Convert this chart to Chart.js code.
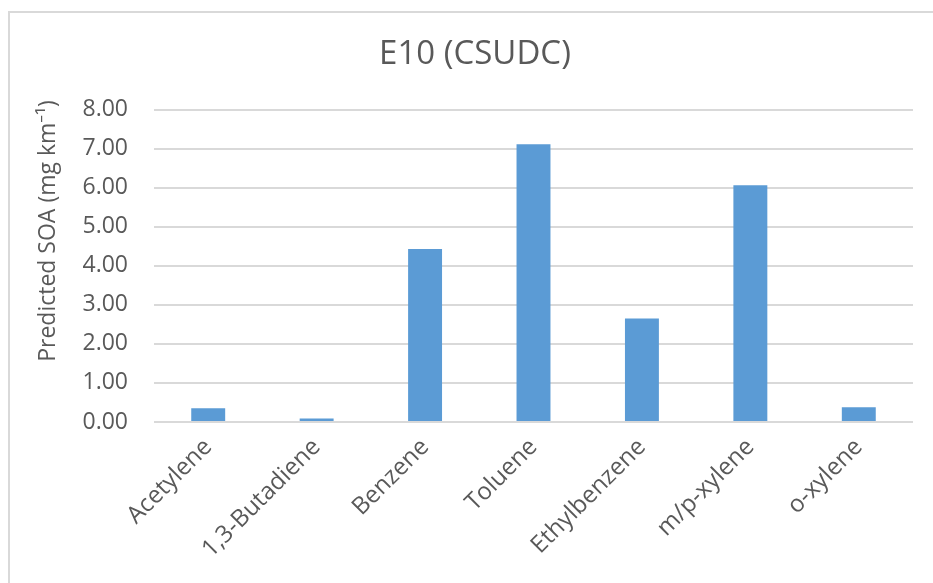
<!DOCTYPE html>
<html lang="en">
<head>
    <meta charset="UTF-8">
    <title>E10 (CSUDC)</title>
    <script src="https://cdn.jsdelivr.net/npm/chart.js"></script>
    <style>
        html, body { margin: 0; padding: 0; background: #fff; overflow: hidden; }
        #frame {
            position: absolute; left: 8px; top: 11px;
            width: 960px; height: 600px;
            border: 2px solid #d9d9d9;
        }
        #wrap { position: absolute; left: 0; top: 0; width: 933px; height: 583px; }
    </style>
</head>
<body>
    <div id="frame"></div>
    <div id="wrap"><canvas id="soaChart" width="933" height="583"></canvas></div>

    <script>
        // data
        const compounds = ['Acetylene', '1,3-Butadiene', 'Benzene', 'Toluene', 'Ethylbenzene', 'm/p-xylene', 'o-xylene'];
        const soaValues = [0.35, 0.09, 4.43, 7.11, 2.65, 6.06, 0.38];
        const yTicks = [0, 1, 2, 3, 4, 5, 6, 7, 8];
        const yTitle = 'Predicted SOA (mg km\u207B\u00B9)';

        const textColor = '#595959';
        const fontFamily = '"Open Sans", "Noto Sans", sans-serif';

        // y axis title sits a bit above the plot centre in the original, so draw it by hand
        const yTitlePlugin = {
            id: 'yTitle',
            afterDraw(chart) {
                const c = chart.ctx;
                c.save();
                c.translate(48, 231);
                c.rotate(-Math.PI / 2);
                c.fillStyle = textColor;
                c.font = '23px ' + fontFamily;
                c.textAlign = 'center';
                c.textBaseline = 'middle';
                c.fillText(yTitle, 0, 0);
                c.restore();
            }
        };

        var ctx = document.getElementById('soaChart').getContext('2d');
        var soaChart = new Chart(ctx, {
            type: 'bar',
            data: {
                labels: compounds,
                datasets: [{
                    label: 'Predicted SOA',
                    data: soaValues,
                    backgroundColor: '#5b9bd5',
                    borderWidth: 0,
                    barPercentage: 0.313,
                    categoryPercentage: 1.0
                }]
            },
            options: {
                responsive: false,
                animation: false,
                devicePixelRatio: 1,
                layout: { padding: { left: 37, right: 20, top: 0, bottom: 0 } },
                plugins: {
                    legend: { display: false },
                    tooltip: { enabled: false },
                    title: {
                        display: true,
                        text: 'E10 (CSUDC)',
                        color: textColor,
                        font: { family: fontFamily, size: 33, weight: 'normal', lineHeight: 1.2 },
                        padding: { top: 35, bottom: 35 }
                    }
                },
                scales: {
                    x: {
                        grid: { display: false, drawTicks: false },
                        border: { display: false },
                        ticks: {
                            color: textColor,
                            font: { family: fontFamily, size: 24 },
                            maxRotation: 45,
                            minRotation: 45,
                            padding: 11,
                            autoSkip: false
                        },
                        afterFit: function (scale) { scale.height = 161; }
                    },
                    y: {
                        min: yTicks[0],
                        max: yTicks[yTicks.length - 1],
                        afterBuildTicks: function (scale) {
                            scale.ticks = yTicks.map(v => ({ value: v }));
                        },
                        grid: { color: '#d9d9d9', lineWidth: 2, drawTicks: false },
                        border: { display: false },
                        ticks: {
                            color: textColor,
                            font: { family: fontFamily, size: 23 },
                            padding: 26,
                            callback: v => Number(v).toFixed(2)
                        },
                        afterFit: function (scale) { scale.width = 117; }
                    }
                }
            },
            plugins: [yTitlePlugin]
        });
    </script>
</body>
</html>
